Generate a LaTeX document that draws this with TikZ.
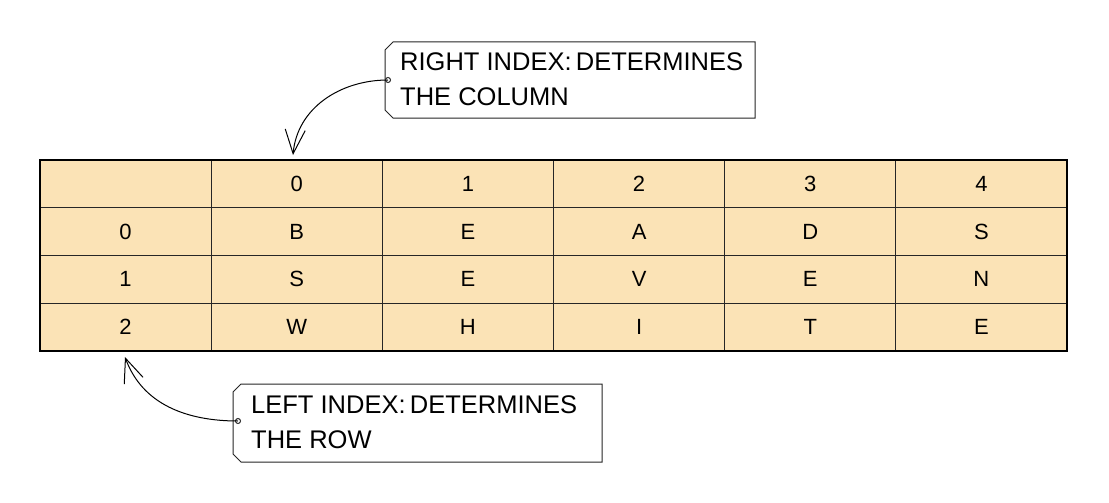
\documentclass[tikz,border=0pt]{standalone}
\usepackage{fontspec}
\setmainfont{Liberation Sans}
\usetikzlibrary{arrows.meta}
\definecolor{cellfill}{HTML}{FBE3B6}
\tikzset{
    cell/.style={draw=black!85,line width=0.9pt,fill=cellfill,inner sep=0pt,font=\fontsize{22}{22}\selectfont},
    note/.style={draw=black!85,line width=1pt},
    notetext/.style={anchor=north west,align=left,inner sep=0pt,font=\fontsize{25.5}{35}\selectfont},
    pointer/.style={-{Straight Barb[length=24pt,width=20pt,line width=1pt]},line width=1pt}
}
\begin{document}
\begin{tikzpicture}[x=1pt,y=-1pt]
\useasboundingbox (0,0) rectangle (1109,503);
% table
\foreach \r [count=\i from 0] in {{ ,0,1,2,3,4},{0,B,E,A,D,S},{1,S,E,V,E,N},{2,W,H,I,T,E}}{
  \foreach \t [count=\j from 0] in \r {
    \node[cell,minimum width=171.17pt,minimum height=47.75pt] (c-\i-\j) at ({40+171.17*\j+85.58},{160+47.75*\i+23.87}) {\t};
  }
}
\draw[line width=1.2pt] (40,160) rectangle (1067,351);
% right index note
\draw[note,fill=white] (393,42) -- (755,42) -- (755,118) -- (393,118) -- (385,110) -- (385,50) -- cycle;
\node[notetext] (right) at (400,52) {RIGHT INDEX:\,DETERMINES\\THE COLUMN};
\coordinate (rdot) at (388,80);
\draw[note,fill=white] (rdot) circle (2.5);
\draw[pointer] (rdot) to[out=180,in=85] (293,155);
% left index note
\draw[note,fill=white] (241,384) -- (602,384) -- (602,462) -- (241,462) -- (233,454) -- (233,392) -- cycle;
\node[notetext] (left) at (251,395) {LEFT INDEX:\,DETERMINES\\THE ROW};
\coordinate (ldot) at (238,421);
\draw[note,fill=white] (ldot) circle (2.5);
\draw[pointer] (ldot) to[out=180,in=-70] (125,357);
\end{tikzpicture}
\end{document}
